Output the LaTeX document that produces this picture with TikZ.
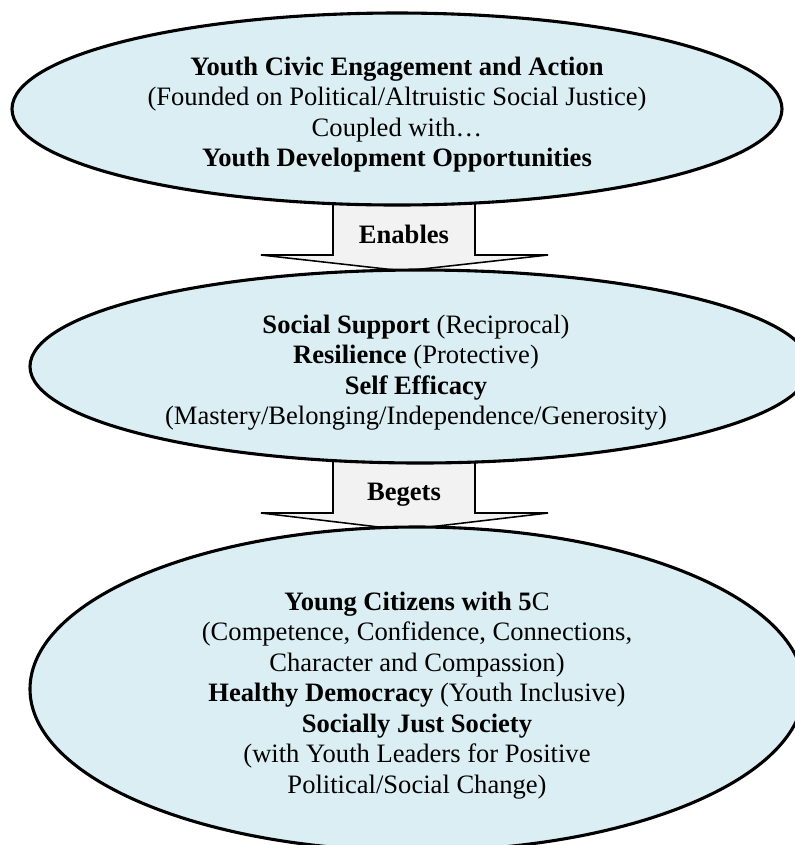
\documentclass[tikz,border=0pt]{standalone}
\usepackage{fontspec}
\setmainfont{Liberation Serif}
\usetikzlibrary{shapes.geometric}
\definecolor{ovalfill}{HTML}{DAEEF3}
\definecolor{arrowfill}{HTML}{F2F2F2}
\begin{document}
\begin{tikzpicture}[x=0.4516pt,y=-0.4516pt,
  oval/.style={ellipse, draw=black, line width=1.4pt, fill=ovalfill, inner sep=0pt},
  blockarrow/.style={draw=black, line width=0.7pt, fill=arrowfill, line join=miter},
  ovaltext/.style={align=center, inner sep=0pt, font=\fontsize{12}{13.77}\selectfont},
  arrowlabel/.style={inner sep=0pt, anchor=base, font=\fontsize{12}{13.77}\selectfont\bfseries}]
\useasboundingbox (0,0) rectangle (795,845);
\clip (0,0) rectangle (795,845);
% block arrows (behind the ovals)
\coordinate (a1top) at (404,195);
\coordinate (a2top) at (404,450);
\draw[blockarrow] (333,195) -- (475,195) -- (475,255) -- (548,255) -- (404,271) -- (261,255) -- (333,255) -- cycle;
\draw[blockarrow] (333,450) -- (475,450) -- (475,513) -- (548,513) -- (404,530) -- (261,513) -- (333,513) -- cycle;
\node[arrowlabel] (lab1) at (404,243) {Enables};
\node[arrowlabel] (lab2) at (404,500) {Begets};
% ovals
\node[oval, minimum width={770*0.4516pt}, minimum height={192*0.4516pt}] (e1) at (397,109) {};
\node[oval, minimum width={780*0.4516pt}, minimum height={193*0.4516pt}] (e2) at (420,366.5) {};
\node[oval, minimum width={774*0.4516pt}, minimum height={324*0.4516pt}] (e3) at (417,689) {};
% texts
\node[ovaltext] (t1) at (397,114.5) {\textbf{Youth Civic Engagement and Action}\\(Founded on Political/Altruistic Social Justice)\\Coupled with\ldots\\\textbf{Youth Development Opportunities}};
\node[ovaltext] (t2) at (416,372.5) {\textbf{Social Support} (Reciprocal)\\\textbf{Resilience} (Protective)\\\textbf{Self Efficacy}\\(Mastery/Belonging/Independence/Generosity)};
\node[ovaltext] (t3) at (417,695.5) {\textbf{Young Citizens with 5}C\\(Competence, Confidence, Connections,\\Character and Compassion)\\\textbf{Healthy Democracy} (Youth Inclusive)\\\textbf{Socially Just Society}\\(with Youth Leaders for Positive\\Political/Social Change)};
\end{tikzpicture}
\end{document}
